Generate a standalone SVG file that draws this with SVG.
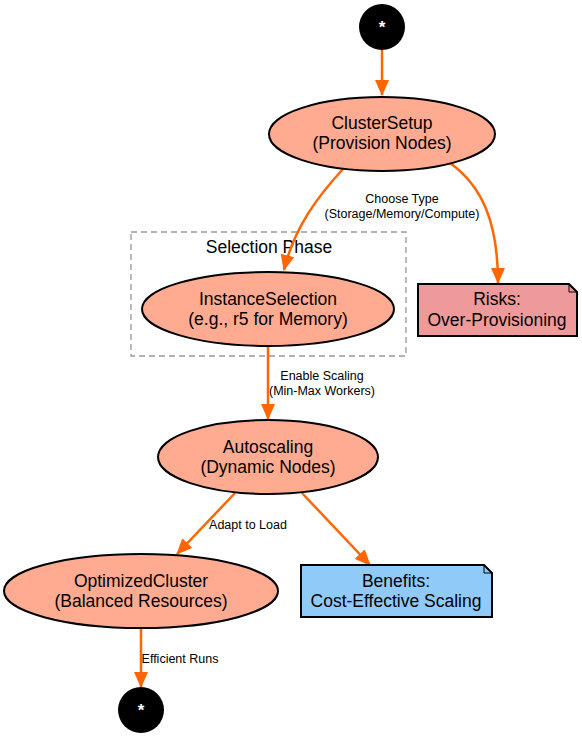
<svg xmlns="http://www.w3.org/2000/svg" width="582" height="738" viewBox="0 0 582 738">
<style>
.node{fill:#ffab91;stroke:#000;stroke-width:2}
.term{fill:#000}
.t{font-family:"Liberation Sans",Arial,sans-serif;font-size:17.5px;fill:#000;text-anchor:middle}
.tw{font-family:"Liberation Sans",Arial,sans-serif;font-size:17px;fill:#fff;text-anchor:middle;font-weight:bold}
.el{font-family:"Liberation Sans",Arial,sans-serif;font-size:12.5px;fill:#000;text-anchor:middle}
.edge{fill:none;stroke:#ff6600;stroke-width:2.5}
.note{stroke:#000;stroke-width:2}
</style>
<defs>
<marker id="arr" viewBox="0 0 16 14" refX="15" refY="7" markerWidth="16" markerHeight="14" markerUnits="userSpaceOnUse" orient="auto">
<path d="M0,0 L16,7 L0,14 z" fill="#ff6600"/>
</marker>
</defs>
<rect width="582" height="738" fill="#fff"/>
<g id="cluster-selection">
<rect x="131" y="232" width="275" height="124" fill="none" stroke="#999" stroke-width="1.3" stroke-dasharray="6,4"/>
<text class="t" x="269" y="253">Selection Phase</text>
</g>
<g id="edges">
<path class="edge" d="M382,50 L382,95" marker-end="url(#arr)"/>
<path class="edge" d="M343,169 C318,196 294,228 284,270" marker-end="url(#arr)"/>
<path class="edge" d="M450,163 C482,186 498,222 498,283" marker-end="url(#arr)"/>
<path class="edge" d="M268,346 L268,419" marker-end="url(#arr)"/>
<path class="edge" d="M235,493 L177,554" marker-end="url(#arr)"/>
<path class="edge" d="M302,493 L370,565" marker-end="url(#arr)"/>
<path class="edge" d="M141,628 L141,687" marker-end="url(#arr)"/>
<text class="el" x="402" y="203">Choose Type</text>
<text class="el" x="402" y="218">(Storage/Memory/Compute)</text>
<text class="el" x="322" y="380">Enable Scaling</text>
<text class="el" x="322" y="395">(Min-Max Workers)</text>
<text class="el" x="248" y="529">Adapt to Load</text>
<text class="el" x="180" y="663">Efficient Runs</text>
</g>
<g id="start">
<circle class="term" cx="382" cy="27" r="23"/>
<text class="tw" x="382" y="33">*</text>
</g>
<g id="ClusterSetup">
<ellipse class="node" cx="382" cy="134" rx="113" ry="37"/>
<text class="t" x="382" y="129">ClusterSetup</text>
<text class="t" x="382" y="149">(Provision Nodes)</text>
</g>
<g id="InstanceSelection">
<ellipse class="node" cx="268" cy="309" rx="126" ry="37"/>
<text class="t" x="268" y="305">InstanceSelection</text>
<text class="t" x="268" y="325">(e.g., r5 for Memory)</text>
</g>
<g id="Risks">
<path class="note" fill="#ef9a9a" d="M418,284 L569,284 L577,292 L577,336 L418,336 z"/>
<path d="M569,284 L569,292 L577,292" fill="none" stroke="#000" stroke-width="1"/>
<text class="t" x="497" y="305">Risks:</text>
<text class="t" x="497" y="326">Over-Provisioning</text>
</g>
<g id="Autoscaling">
<ellipse class="node" cx="268" cy="457" rx="110" ry="37"/>
<text class="t" x="268" y="453">Autoscaling</text>
<text class="t" x="268" y="473">(Dynamic Nodes)</text>
</g>
<g id="OptimizedCluster">
<ellipse class="node" cx="141" cy="591" rx="137" ry="37"/>
<text class="t" x="141" y="587">OptimizedCluster</text>
<text class="t" x="141" y="607">(Balanced Resources)</text>
</g>
<g id="Benefits">
<path class="note" fill="#90caf9" d="M301,565 L484,565 L492,573 L492,617 L301,617 z"/>
<path d="M484,565 L484,573 L492,573" fill="none" stroke="#000" stroke-width="1"/>
<text class="t" x="396" y="587">Benefits:</text>
<text class="t" x="396" y="607">Cost-Effective Scaling</text>
</g>
<g id="end">
<circle class="term" cx="141" cy="710" r="23"/>
<text class="tw" x="141" y="716">*</text>
</g>
</svg>
